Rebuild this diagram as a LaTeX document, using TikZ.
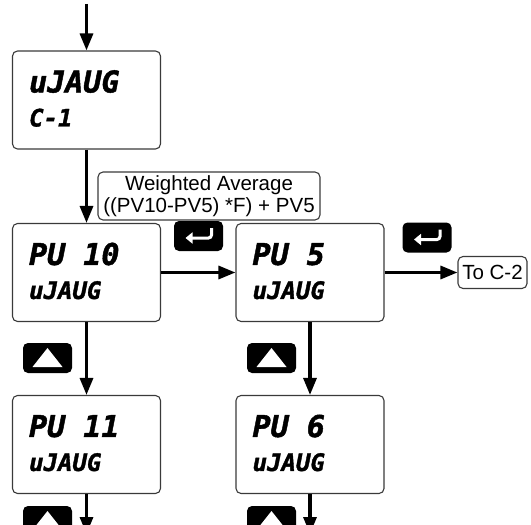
\documentclass[tikz,border=0pt]{standalone}
\usepackage{fontspec}
\setmainfont{Liberation Sans}
\newfontfamily\lcdfont{DejaVu Sans Mono Bold Oblique}[FakeBold=1.5]
\usetikzlibrary{arrows.meta, calc}
\definecolor{boxborder}{HTML}{3A3A3A}

\begin{document}
\begin{tikzpicture}[
    x=1bp, y=-1bp,
    >={Triangle[length=17bp, width=13bp]},
    lcdbox/.style={draw=boxborder, rounded corners=5bp, line width=1.1bp,
        minimum width=148bp, minimum height=98bp, inner sep=0pt},
    lcdbig/.style={anchor=base west, inner sep=0pt,
        font=\lcdfont\fontsize{30bp}{30bp}\selectfont},
    lcdsmall/.style={anchor=base west, inner sep=0pt,
        font=\lcdfont\fontsize{24bp}{24bp}\selectfont},
    note/.style={draw=boxborder, rounded corners=5bp, line width=1.1bp,
        align=center, inner sep=0pt, font=\fontsize{20.5bp}{22bp}\selectfont},
    keybtn/.style={fill=black, rounded corners=5bp, minimum width=49bp,
        minimum height=30bp, inner sep=0pt},
    arr/.style={->, line width=3.2bp},
    icon/.style={white, line width=3bp},
]
\useasboundingbox (0,0) rectangle (531,525);
\clip (0,0) rectangle (531,525);

% --- LCD screens (big top line, small bottom line) ---
\foreach \name/\x/\y/\top/\bot in {cone/86.5/100/uJAUG/C-1,
    pvten/86.5/272.5/PU 10/uJAUG, pvfive/310/272.5/PU 5/uJAUG,
    pveleven/86.5/444.5/PU 11/uJAUG, pvsix/310/444.5/PU 6/uJAUG} {
    \node[lcdbox] (\name) at (\x,\y) {};
    \node[lcdbig] (\name top) at ($(\name.north west)+(17,42)$) {\top};
    \node[lcdsmall] (\name bot) at ($(\name.north west)+(17,76)$) {\bot};
}

% --- Notes ---
\node[note, minimum width=222bp, minimum height=48bp] (wavg) at (209,196)
    {Weighted Average\\((PV10-PV5) *F) + PV5};
\node[note, minimum width=69bp, minimum height=32bp] (toctwo) at (492.5,272.5)
    {To C-2};

% --- Keys ---
\node[keybtn] (enterone) at (198.5,236) {};
\node[keybtn] (entertwo) at (427,237.5) {};
\node[keybtn] (upone) at (47.5,358) {};
\node[keybtn] (uptwo) at (271.5,358) {};
\node[keybtn] (upthree) at (47.5,521) {};
\node[keybtn] (upfour) at (271.5,521) {};
\foreach \k in {enterone, entertwo} {
    \draw[icon, rounded corners=3bp, -{Triangle[length=7bp, width=11bp]}]
        ($(\k.center)+(13,-8)$) -- ($(\k.center)+(13,2)$) -- ($(\k.center)+(-13,2)$);
}
\foreach \k in {upone, uptwo, upthree, upfour} {
    \fill[white] ($(\k.center)+(0,-10)$) -- ($(\k.center)+(15,9)$)
        -- ($(\k.center)+(-15,9)$) -- cycle;
}

% --- Flow ---
\coordinate (entry) at (86.5,4);
\coordinate (exitl) at (86.5,534);
\coordinate (exitr) at (310,534);
\draw[arr] (entry) -- (cone);
\draw[arr] (cone) -- (pvten);
\draw[arr] (pvten) -- (pvfive);
\draw[arr] (pvfive) -- (toctwo);
\draw[arr] (pvten) -- (pveleven);
\draw[arr] (pvfive) -- (pvsix);
\draw[arr] (pveleven) -- (exitl);
\draw[arr] (pvsix) -- (exitr);

\end{tikzpicture}
\end{document}
